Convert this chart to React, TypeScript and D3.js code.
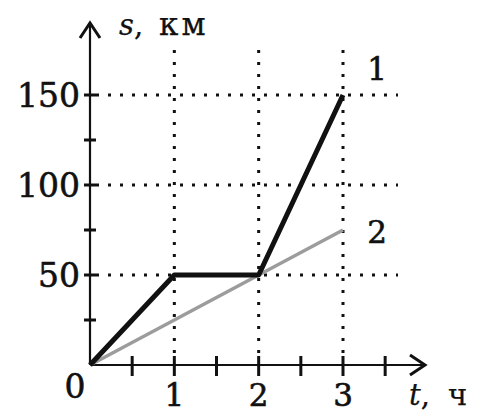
import React from "react";
import * as d3 from "d3";

// Distance s (km) against time t (h) for two motions
const series1T = [0, 1, 2, 3];
const series1S = [0, 50, 50, 150];
const series2T = [0, 3];
const series2S = [0, 75];

const xTickLabels = ["1", "2", "3"];
const xTickValues = [1, 2, 3];
const yTickLabels = ["50", "100", "150"];
const yTickValues = [50, 100, 150];
const xMinorTicks = [0.5, 1, 1.5, 2, 2.5, 3, 3.5];
const yMinorTicks = [25, 50, 75, 100, 125, 150];

const W = 477;
const H = 414;
const FONT = "'DejaVu Serif', serif";
const INK = "#111";

export default function App() {
  const x = d3.scaleLinear().domain([0, 3]).range([90, 343]);
  const y = d3.scaleLinear().domain([0, 150]).range([365, 95]);

  const line = d3
    .line<[number, number]>()
    .x((d) => x(d[0]))
    .y((d) => y(d[1]));

  const s1 = series1T.map((t, i) => [t, series1S[i]] as [number, number]);
  const s2 = series2T.map((t, i) => [t, series2S[i]] as [number, number]);

  const x0 = x(0);
  const y0 = y(0);
  const gridRight = 398;
  const gridTop = 50;
  const axisTop = 23;
  const axisRight = 425;
  const dot = { stroke: INK, strokeWidth: 3, strokeDasharray: "3 9" };
  const txt = { fontFamily: FONT, fill: INK, stroke: INK, strokeWidth: 0.6 };
  const title = { fontFamily: FONT, fill: INK, stroke: INK, strokeWidth: 0.25 };

  return (
    <svg
      width={W}
      height={H}
      style={{ position: "absolute", left: 0, top: 0, background: "#fff" }}
    >
      {/* dotted grid */}
      {yTickValues.map((v) => (
        <line key={"gh" + v} x1={x0 + 6} x2={gridRight} y1={y(v)} y2={y(v)} {...dot} />
      ))}
      {xTickValues.map((v) => (
        <line key={"gv" + v} x1={x(v)} x2={x(v)} y1={gridTop} y2={y0 - 8} {...dot} />
      ))}

      {/* axes */}
      <line x1={x0} x2={x0} y1={y0} y2={axisTop + 1} stroke={INK} strokeWidth={2.2} />
      <line x1={x0} x2={axisRight - 1} y1={y0} y2={y0} stroke={INK} strokeWidth={2.2} />
      <polyline
        points={`${x0 - 10},${axisTop + 15} ${x0},${axisTop} ${x0 + 10},${axisTop + 15}`}
        fill="none"
        stroke={INK}
        strokeWidth={3}
      />
      <polyline
        points={`${axisRight - 15},${y0 - 10} ${axisRight},${y0} ${axisRight - 15},${y0 + 10}`}
        fill="none"
        stroke={INK}
        strokeWidth={3}
      />

      {/* axis tick marks */}
      {yMinorTicks.map((v) => (
        <line key={"yt" + v} x1={x0 - 6} x2={x0 + 6} y1={y(v)} y2={y(v)} stroke={INK} strokeWidth={3} />
      ))}
      {xMinorTicks.map((v) => (
        <line key={"xt" + v} x1={x(v)} x2={x(v)} y1={y0 - 9} y2={y0 + 11} stroke={INK} strokeWidth={3} />
      ))}

      {/* series */}
      <path d={line(s2) ?? ""} fill="none" stroke="#9c9c9c" strokeWidth={3.4} />
      <path
        d={line(s1) ?? ""}
        fill="none"
        stroke={INK}
        strokeWidth={5}
        strokeLinejoin="round"
      />

      {/* tick labels */}
      {yTickValues.map((v, i) => (
        <text key={"yl" + v} x={x0 - 10} y={y(v) + 12} textAnchor="end" fontSize={33} {...txt}>
          {yTickLabels[i]}
        </text>
      ))}
      {xTickValues.map((v, i) => (
        <text key={"xl" + v} x={x(v)} y={406} textAnchor="middle" fontSize={31} {...txt}>
          {xTickLabels[i]}
        </text>
      ))}
      <text x={x0 - 15} y={398} textAnchor="middle" fontSize={33} {...txt}>
        0
      </text>

      {/* axis titles */}
      <text x={119} y={35} fontSize={29} {...title}>
        <tspan fontStyle="italic">s</tspan>
        <tspan>,</tspan>
        <tspan dx={16} fontSize={31} letterSpacing={3}>км</tspan>
      </text>
      <text x={409} y={405} fontSize={29} {...title}>
        <tspan fontStyle="italic">t</tspan>
        <tspan>,</tspan>
        <tspan dx={18}>ч</tspan>
      </text>

      {/* series labels */}
      <text x={377} y={80} textAnchor="middle" fontSize={31} {...txt}>
        1
      </text>
      <text x={377} y={243} textAnchor="middle" fontSize={31} {...txt}>
        2
      </text>
    </svg>
  );
}
